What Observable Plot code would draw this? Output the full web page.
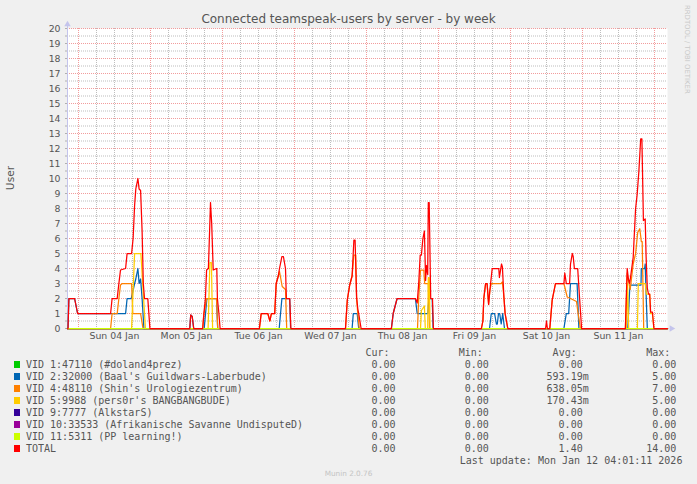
<!DOCTYPE html>
<html><head><meta charset="utf-8">
<script src="https://cdn.jsdelivr.net/npm/d3@7"></script>
<script src="https://cdn.jsdelivr.net/npm/@observablehq/plot@0.6"></script>
<style>
html,body{margin:0;padding:0;background:#f0f0f0;}
#wrap{position:relative;width:697px;height:484px;overflow:hidden;font-family:"DejaVu Sans",sans-serif;color:#555;}
#wrap svg{position:absolute;left:0;top:0;}
.t{position:absolute;white-space:pre;}
.mono{font-family:"DejaVu Sans Mono",monospace;font-size:10px;line-height:12px;color:#555;}
</style></head><body><div id="wrap"></div>
<script>
// ---------- texts ----------
const title = "Connected teamspeak-users by server - by week";
const yLabel = "User";
const sideText = "RRDTOOL / TOBI OETIKER";
const dayLabels = ["Sun 04 Jan","Mon 05 Jan","Tue 06 Jan","Wed 07 Jan","Thu 08 Jan","Fri 09 Jan","Sat 10 Jan","Sun 11 Jan"];
const yTicks = [0,1,2,3,4,5,6,7,8,9,10,11,12,13,14,15,16,17,18,19,20];
const headers = ["Cur:","Min:","Avg:","Max:"];
const lastUpdate = "Last update: Mon Jan 12 04:01:11 2026";
const footer = "Munin 2.0.76";

// ---------- legend ----------
const seriesNames = ["VID 1:47110 (#doland4prez)","VID 2:32000 (Baal's Guildwars-Laberbude)","VID 4:48110 (Shin's Urologiezentrum)","VID 5:9988 (pers0r's BANGBANGBUDE)","VID 9:7777 (AlkstarS)","VID 10:33533 (Afrikanische Savanne UndisputeD)","VID 11:5311 (PP learning!)","TOTAL"];
const seriesColors = ["#00cc00","#0066b3","#ff8000","#ffcc00","#330099","#990099","#ccff00","#ff0000"];
const curVals = ["0.00","0.00","0.00","0.00","0.00","0.00","0.00","0.00"];
const minVals = ["0.00","0.00","0.00","0.00","0.00","0.00","0.00","0.00"];
const avgVals = ["0.00","593.19m","638.05m","170.43m","0.00","0.00","0.00","1.40"];
const maxVals = ["0.00","5.00","7.00","5.00","0.00","0.00","0.00","14.00"];

// ---------- series: [hours since Sun 04 Jan 00:00, users] ----------
const vid1 = [];
const vid2 = [[-3.5,0],[-3.2,2],[-1.3,2],[-0.8,1.5],[-0.3,1],[15.7,1],[16.2,2],[17.6,2],[18.7,3],[19.1,3.3],[19.8,4],[20.2,3],[20.7,3.3],[21.2,2],[21.8,0],
  [37.1,0],[37.4,0.9],[37.9,0.8],[38.4,0],
  [41.9,0],[42.8,2],[46,2],[46.4,0],
  [66.9,0],[67.8,2],[70.4,2],[70.7,0],
  [91.2,0],[91.6,1],[92.9,1],[93.4,0],
  [104.3,0],[104.9,1],[106.2,2],[112.3,2],[112.9,1],[116.4,1],[116.8,2],[117.9,2],[118.2,0],
  [137,0],[137.6,1],[138.7,1],[139.3,0.3],[139.6,0.3],[140,1],[140.4,1],[140.9,0.3],[141.4,1],[142,0],
  [161.8,0],[162.6,1],[163.4,1],[164,3],[166.2,3],[166.8,0],
  [183.1,0],[183.8,2.9],[187.5,2.9],[187.6,4],[188.7,4],[188.9,4.3],[189.1,2.9],[189.6,0]];
const vid4 = [[10.7,0],[11.2,1],[12.9,1],[13.4,1.9],[14,2.9],[14.6,3],[17.7,3],[18.1,1],[20.7,1],[21.5,0],
  [41.4,0],[41.8,1],[42.3,1.5],[42.7,2],[46,2],[46.4,0],
  [60.3,0],[60.9,1],[63.1,1],[63.8,0.5],[64.3,1],[65.4,1],[65.9,3],[66.6,3.5],[67,3.8],[67.9,2.8],[69,2.6],[69.4,0],
  [89,0],[89.6,1.9],[90.4,2.9],[91.2,3.5],[91.8,4.9],[92.4,4.9],[92.7,2],[93.1,1],[93.6,0],
  [113,0],[113.4,2],[114,3.9],[115.1,3.9],[115.4,3],[116.6,3],[117,0],
  [134.3,0],[134.8,0.5],[135.1,2],[135.7,3],[136.2,3],[136.7,1.6],[137.1,2.5],[137.6,3],[140.9,3],[141.3,3.1],[141.8,2.1],[142.2,1],[143.1,0],
  [157.1,0],[157.9,1.9],[159,3],[161.8,3],[162.9,2.1],[164,2],[166,1.8],[166.4,1.2],[167.3,0],
  [182.3,0],[182.9,3.7],[183.3,3.2],[183.9,2.6],[184.9,4.3],[185.7,5],[186.4,6.4],[187.1,6.65],[187.6,5.8],[187.9,5.8],[188.4,0]];
const vid5 = [[17.7,0],[18.7,5],[20.8,5],[22.3,0],
  [43.2,0],[43.8,4.4],[44.3,4.4],[44.7,0],
  [114,0],[114.3,1.2],[115.3,1.5],[115.6,0],[116.4,0],[116.6,3.4],[116.9,3.4],[117.2,0],
  [182.6,0],[183,3],[183.4,0],[186.3,0],[186.6,3],[188.9,3],[189.3,2.3],[190.4,2.3],[190.7,1],[191.3,1],[191.8,0]];
const vid9 = [];
const vid10 = [];
const vid11 = [];
const total = [[-3.5,0],[-3.2,2],[-1.3,2],[-0.8,1.5],[-0.3,1],[10.7,1],[11.2,2],[12.9,2],[13.4,2.9],[14,3.9],[15.7,4],[16.2,5],[17.7,5],[18.2,6],[18.7,8.2],[19.1,9.3],[19.8,10],[20.2,9.3],[20.7,9.2],[21.2,6.5],[21.6,3],[22,2],[23.1,2],[23.8,0],
  [37.1,0],[37.4,0.9],[37.9,0.8],[38.4,0],
  [41.4,0],[41.8,1],[42.3,2],[42.7,3.9],[43.3,4],[44,8.4],[44.4,7],[44.9,3.9],[46.1,4],[46.3,2],[46.8,1],[47.2,0],
  [60.3,0],[60.9,1],[63.1,1],[63.8,0.5],[64.3,1],[65.4,1],[65.9,3],[66.6,3.5],[67,4],[67.8,4.8],[68.3,4.8],[69,4],[69.3,2],[70.4,2],[70.8,0],
  [89,0],[89.6,1.9],[90.4,2.9],[91.2,3.5],[91.8,5.9],[92.2,5.9],[92.7,2.1],[93.1,1.3],[93.4,1],[94.2,0],
  [104.3,0],[104.9,1],[106.2,2],[112.3,2],[112.9,1.7],[113.4,3],[113.9,4.9],[114.3,4.9],[114.8,6],[115.3,6.5],[115.7,3.2],[116,4.2],[116.4,3.6],[116.6,8.4],[116.9,8.4],[117.4,2],[118,2],[118.3,0],
  [134.3,0],[134.8,0.5],[135.1,2],[135.7,3],[136.2,3],[136.7,1.6],[137.1,2.5],[137.9,4],[140.1,4],[140.3,3.4],[141,4.3],[141.3,4.1],[141.8,2.1],[142.2,1],[143.1,0],
  [155.7,0],[156,0.5],[156.3,0],[157.1,0],[157.9,1.9],[159,3],[161.8,3],[162.1,3.7],[162.6,3],[163.7,3],[164,4.3],[164.6,5],[164.9,4.8],[165.3,4],[166.4,4],[167,2.1],[167.7,0],
  [182.3,0],[182.9,4],[183.3,3.3],[183.7,3],[184,3.4],[184.9,4.75],[185.7,8],[186.2,8.9],[186.8,10.5],[187.4,12.65],[187.8,12.65],[188.3,7.2],[188.9,7.3],[189.2,4.8],[189.6,2.7],[190,2.3],[190.4,2.3],[190.7,1.1],[191.3,1.1],[191.8,0]];

// ---------- build ----------
const base = Date.UTC(2026, 0, 4);
const toDate = h => new Date(base + h * 3600000);
const startH = -11 / 3, spanH = 200;
const d0 = toDate(startH), d1 = toDate(startH + spanH);
const pad = s => [[startH, 0], ...s, [startH + spanH, 0]];
const drawOrder = [vid1, vid2, vid4, vid5, vid9, vid10, vid11, total];

const minorX = d3.utcHour.every(6).range(d0, d1);
const majorX = d3.utcDay.range(d0, d1);
const noonTicks = d3.utcDay.range(d0, d1).map(d => d3.utcHour.offset(d, 12)).filter(d => d < d1);
const minorY = d3.range(0.5, 20, 1);
const majorY = yTicks.filter(v => v > 0);
const axisCol = "#c4c4ec";

const marks = [
  Plot.frame({fill: "white", stroke: "none"}),
  Plot.gridX({ticks: minorX, stroke: "#bdbdbd", strokeOpacity: 1, strokeDasharray: "1,1"}),
  Plot.gridY({ticks: minorY, stroke: "#bdbdbd", strokeOpacity: 1, strokeDasharray: "1,1"}),
  Plot.gridX({ticks: majorX, stroke: "#f29c9c", strokeOpacity: 1, strokeDasharray: "1,1"}),
  Plot.gridY({ticks: majorY, stroke: "#f29c9c", strokeOpacity: 1, strokeDasharray: "1,1"}),
  Plot.ruleX([d0], {y1: 0, y2: 20.3, stroke: axisCol}),
  Plot.ruleY([0], {x1: d0, x2: d1, stroke: axisCol}),
  Plot.dot([d0], {x: d => d, y: () => 20.27, symbol: "triangle", r: 2.4, fill: axisCol, stroke: "none"}),
  Plot.dot([d1], {x: d => d3.utcMinute.offset(d, 80), y: () => 0, symbol: "triangle", r: 2.4, rotate: 90, fill: axisCol, stroke: "none"}),
  Plot.axisY({ticks: d3.range(0, 20.5, 0.5), tickSize: 2, tickFormat: () => "", stroke: "#b0b0b0", label: null}),
  Plot.axisY({ticks: yTicks, tickSize: 0, tickPadding: 7, fill: "#555", label: null}),
  Plot.axisX({ticks: noonTicks, tickSize: 0, tickPadding: 4, fill: "#555", label: null,
    tickFormat: d => dayLabels[noonTicks.findIndex(t => +t === +d)]})
];
drawOrder.forEach((s, i) => {
  marks.push(Plot.line(pad(s), {x: d => toDate(d[0]), y: d => d[1], stroke: seriesColors[i], strokeWidth: 1.25}));
});

const chart = Plot.plot({
  width: 697, height: 345,
  marginTop: 28, marginBottom: 17, marginLeft: 67, marginRight: 30,
  style: {background: "transparent", fontFamily: "'DejaVu Sans', sans-serif", fontSize: "9.33px", color: "#555", overflow: "visible"},
  x: {type: "utc", domain: [d0, d1]},
  y: {domain: [0, 20]},
  marks
});
const wrap = document.getElementById("wrap");
wrap.appendChild(chart);

function addText(txt, css, cls) {
  const el = document.createElement("div");
  el.className = "t" + (cls ? " " + cls : "");
  el.textContent = txt;
  Object.assign(el.style, css);
  wrap.appendChild(el);
  return el;
}
// title
addText(title, {left: "0px", width: "697px", textAlign: "center", top: "12px", fontSize: "12px", lineHeight: "14px", color: "#555"});
// y label
addText(yLabel, {left: "-39px", width: "100px", textAlign: "center", top: "171px", fontSize: "10.67px", lineHeight: "14px", color: "#555", transform: "rotate(-90deg)"});
// side text
addText(sideText, {left: "682px", top: "5px", fontSize: "6.9px", lineHeight: "9px", color: "#c8c8c8", writingMode: "vertical-rl"});

// legend
const colRight = [401.6, 494.9, 588.7, 682.4];
const cols = [curVals, minVals, avgVals, maxVals];
headers.forEach((h, c) => addText(h, {right: (697 - (colRight[c] - 12)) + "px", top: (352.8 - 6) + "px"}, "mono"));
seriesNames.forEach((name, i) => {
  const yc = 364.8 + 12 * i;
  const sq = document.createElement("div");
  Object.assign(sq.style, {position: "absolute", left: "14px", top: (yc - 3.5) + "px", width: "6px", height: "7px", background: seriesColors[i]});
  wrap.appendChild(sq);
  addText(name, {left: "26px", top: (yc - 6) + "px"}, "mono");
  cols.forEach((arr, c) => {
    const v = arr[i];
    const s = /[a-zA-Z]$/.test(v) ? v : v + " ";
    addText(s, {right: (697 - colRight[c]) + "px", top: (yc - 6) + "px"}, "mono");
  });
});
addText(lastUpdate, {right: (697 - 682.4) + "px", top: (460.5 - 6) + "px"}, "mono");
addText(footer, {left: "0px", width: "697px", textAlign: "center", top: "469px", fontSize: "7.3px", lineHeight: "9px", color: "#c4c4c4"});
</script></body></html>
